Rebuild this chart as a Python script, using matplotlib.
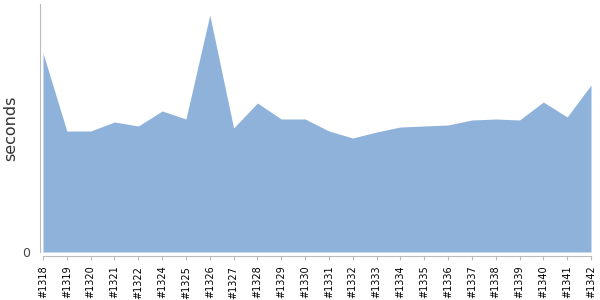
import numpy as np
import matplotlib
matplotlib.use("Agg")
import matplotlib.pyplot as plt

# build numbers on the x axis (#1323 is missing in the source)
builds = ["#1318", "#1319", "#1320", "#1321", "#1322", "#1324", "#1325", "#1326",
          "#1327", "#1328", "#1329", "#1330", "#1331", "#1332", "#1333", "#1334",
          "#1335", "#1336", "#1337", "#1338", "#1339", "#1340", "#1341", "#1342"]
# duration in seconds
seconds = [199, 121, 121, 130, 126, 141, 133, 237,
           124, 149, 133, 133, 121, 114, 120, 125,
           126, 127, 132, 133, 132, 150, 135, 167]
ymax = 248

plt.rcParams['font.family'] = ['DejaVu Sans']

fig = plt.figure(figsize=(6, 3), dpi=100)
ax = fig.add_axes([43 / 600, 48 / 300, 548 / 600, 248 / 300])

x = np.arange(len(builds))
ax.fill_between(x, seconds, 0, color="#8fb2db", linewidth=0)

ax.set_xlim(0, len(builds) - 1)
ax.set_ylim(0, ymax)

ax.tick_params(axis="x", length=3, width=0.8, color="#bbbbbb", pad=4,
               labelsize=7, labelcolor="black", labelrotation=90)
ax.tick_params(axis="y", length=0, pad=7, labelsize=9, labelcolor="#444444")

ax.set_xticks(x)
ax.set_xticklabels(builds)
ax.set_yticks([0])
ax.set_yticklabels(["0"])

for side in ["top", "right"]:
    ax.spines[side].set_visible(False)
ax.spines["left"].set_position(("outward", 2.2))
ax.spines["bottom"].set_position(("outward", 2.9))
ax.spines["left"].set_color("#bbbbbb")
ax.spines["bottom"].set_color("#bbbbbb")
ax.spines["left"].set_linewidth(0.8)
ax.spines["bottom"].set_linewidth(0.8)

ax.set_ylabel("seconds", fontsize=11.5, color="#333333")
ax.yaxis.set_label_coords(-25 / 548, 0.5)

fig.savefig("out.png", dpi=100)
